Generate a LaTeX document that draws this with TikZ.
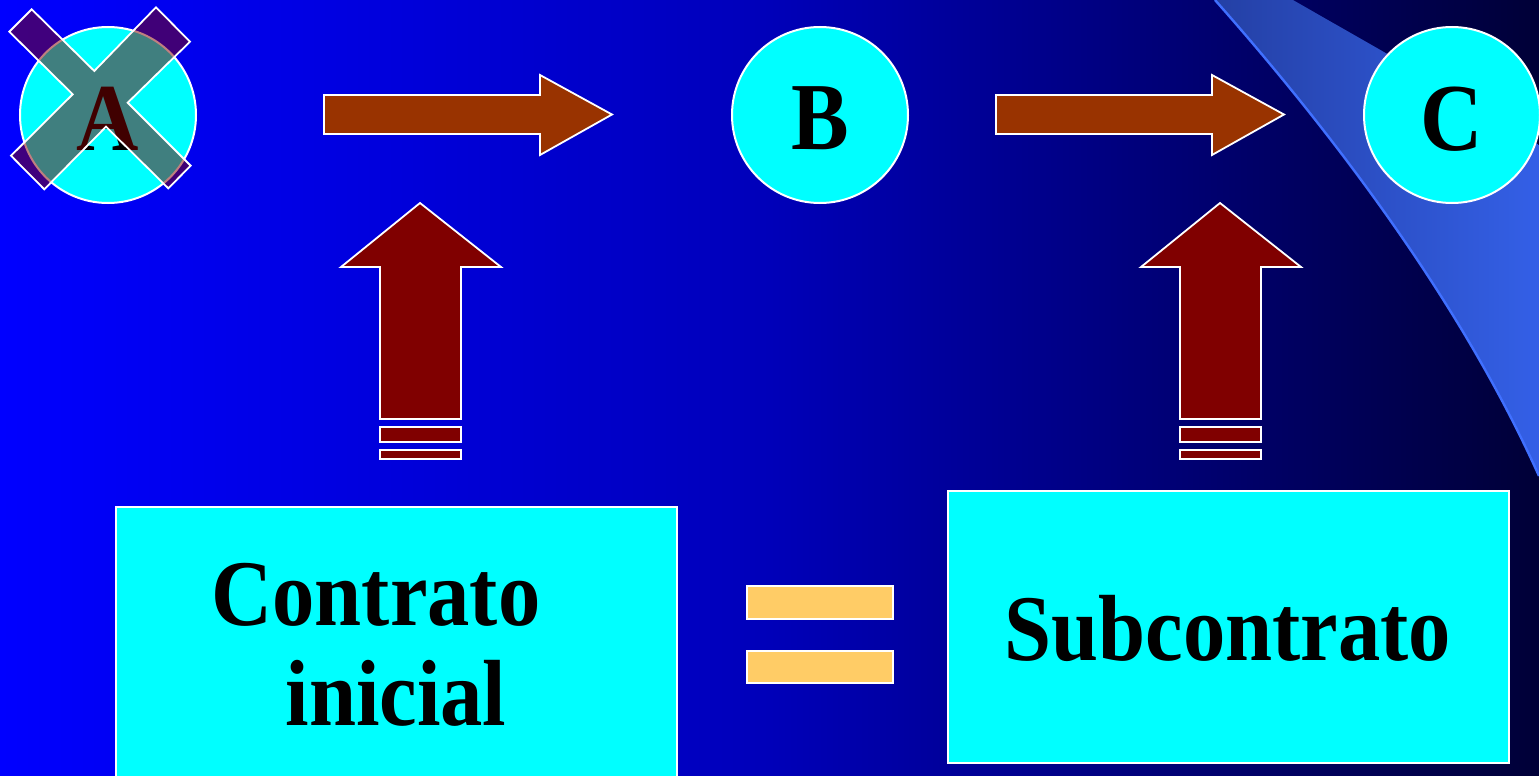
\documentclass[tikz,border=0pt]{standalone}
\usepackage{fontspec}
\newfontfamily\tnr{Liberation Serif}[FakeStretch=0.9]
\usetikzlibrary{shapes.geometric}
\definecolor{bgL}{RGB}{0,0,255}
\definecolor{bgM}{RGB}{0,0,185}
\definecolor{bgR}{RGB}{0,0,55}
\definecolor{bandL}{RGB}{36,64,165}
\definecolor{bandR}{RGB}{52,96,232}
\definecolor{bandEdge}{RGB}{64,112,255}
\definecolor{cyanbox}{RGB}{0,255,255}
\definecolor{harrow}{RGB}{153,51,0}
\definecolor{varrow}{RGB}{128,0,0}
\definecolor{eqfill}{RGB}{255,204,102}
\definecolor{xfill}{RGB}{128,0,0}
\tikzset{
  circ/.style={circle,fill=cyanbox,draw=white,line width=1pt,minimum size=88pt,inner sep=0pt},
  letter/.style={font=\tnr\bfseries\fontsize{48}{52}\selectfont,text=black,inner sep=0pt,anchor=base},
  boxtext/.style={font=\tnr\bfseries\fontsize{47}{52}\selectfont,text=black,inner sep=0pt,anchor=base},
  cbox/.style={fill=cyanbox,draw=white,line width=0.9pt},
  harr/.style={fill=harrow,draw=white,line width=0.9pt,line join=miter},
  varr/.style={fill=varrow,draw=white,line width=0.9pt,line join=miter},
  eqbar/.style={fill=eqfill,draw=white,line width=1pt},
  xmark/.style={fill=xfill,fill opacity=0.5,draw=white,line width=0.9pt},
}
\begin{document}
\begin{tikzpicture}[x=0.5pt,y=-0.5pt]
\useasboundingbox (0,0) rectangle (1539,776);
\begin{scope}
\clip (0,0) rectangle (1539,776);
% background
\shade[left color=bgL,right color=bgM] (0,0) rectangle (770.5,776);
\shade[left color=bgM,right color=bgR] (770,0) rectangle (1539,776);
% swoosh band
\shade[left color=bandL,right color=bandR]
  (1215,0) .. controls (1330,130) and (1460,300) .. (1539,476)
  -- (1545,476) -- (1545,145) -- (1539,145)
  .. controls (1470,100) and (1380,50) .. (1293,0) -- cycle;
\draw[bandEdge,line width=1.2pt] (1215,0) .. controls (1330,130) and (1460,300) .. (1539,476);
% circles
\node[circ] (A) at (108,115) {};
\node[letter] (At) at (108,150) {A};
\node[circ] (B) at (820,115) {};
\node[letter] (Bt) at (820,149) {B};
\node[circ] (C) at (1452,115) {};
\node[letter] (Ct) at (1452,150) {C};
% X over A
\draw[xmark] (9.3,31.7) -- (31.7,9.3) -- (94.3,71) -- (156,7.3) -- (190,41.7)
  -- (127.7,102.7) -- (190.7,165.7) -- (168.3,188.3) -- (106,126.7)
  -- (44.3,189.3) -- (11,155.7) -- (72.7,94.3) -- cycle;
% horizontal arrows
\draw[harr] (324,95) -- (540,95) -- (540,75) -- (612,114.5) -- (540,155) -- (540,134) -- (324,134) -- cycle;
\draw[harr] (996,95) -- (1212,95) -- (1212,75) -- (1284,114.5) -- (1212,155) -- (1212,134) -- (996,134) -- cycle;
% vertical arrows
\draw[varr] (420,203) -- (501,267) -- (461,267) -- (461,419) -- (380,419) -- (380,267) -- (341,267) -- cycle;
\draw[varr] (380,427) rectangle (461,442);
\draw[varr] (380,450) rectangle (461,459);
\draw[varr] (1220,203) -- (1301,267) -- (1261,267) -- (1261,419) -- (1180,419) -- (1180,267) -- (1141,267) -- cycle;
\draw[varr] (1180,427) rectangle (1261,442);
\draw[varr] (1180,450) rectangle (1261,459);
% boxes
\draw[cbox] (116,507) rectangle (677,790);
\node[boxtext] (contr) at (376,625) {Contrato};
\node[boxtext] (inic) at (396,725) {inicial};
\draw[cbox] (948,491) rectangle (1509,763);
\node[boxtext] (sub) at (1228,660) {Subcontrato};
% equals sign
\draw[eqbar] (747,586) rectangle (893,619);
\draw[eqbar] (747,651) rectangle (893,683);
\end{scope}
\end{tikzpicture}
\end{document}
